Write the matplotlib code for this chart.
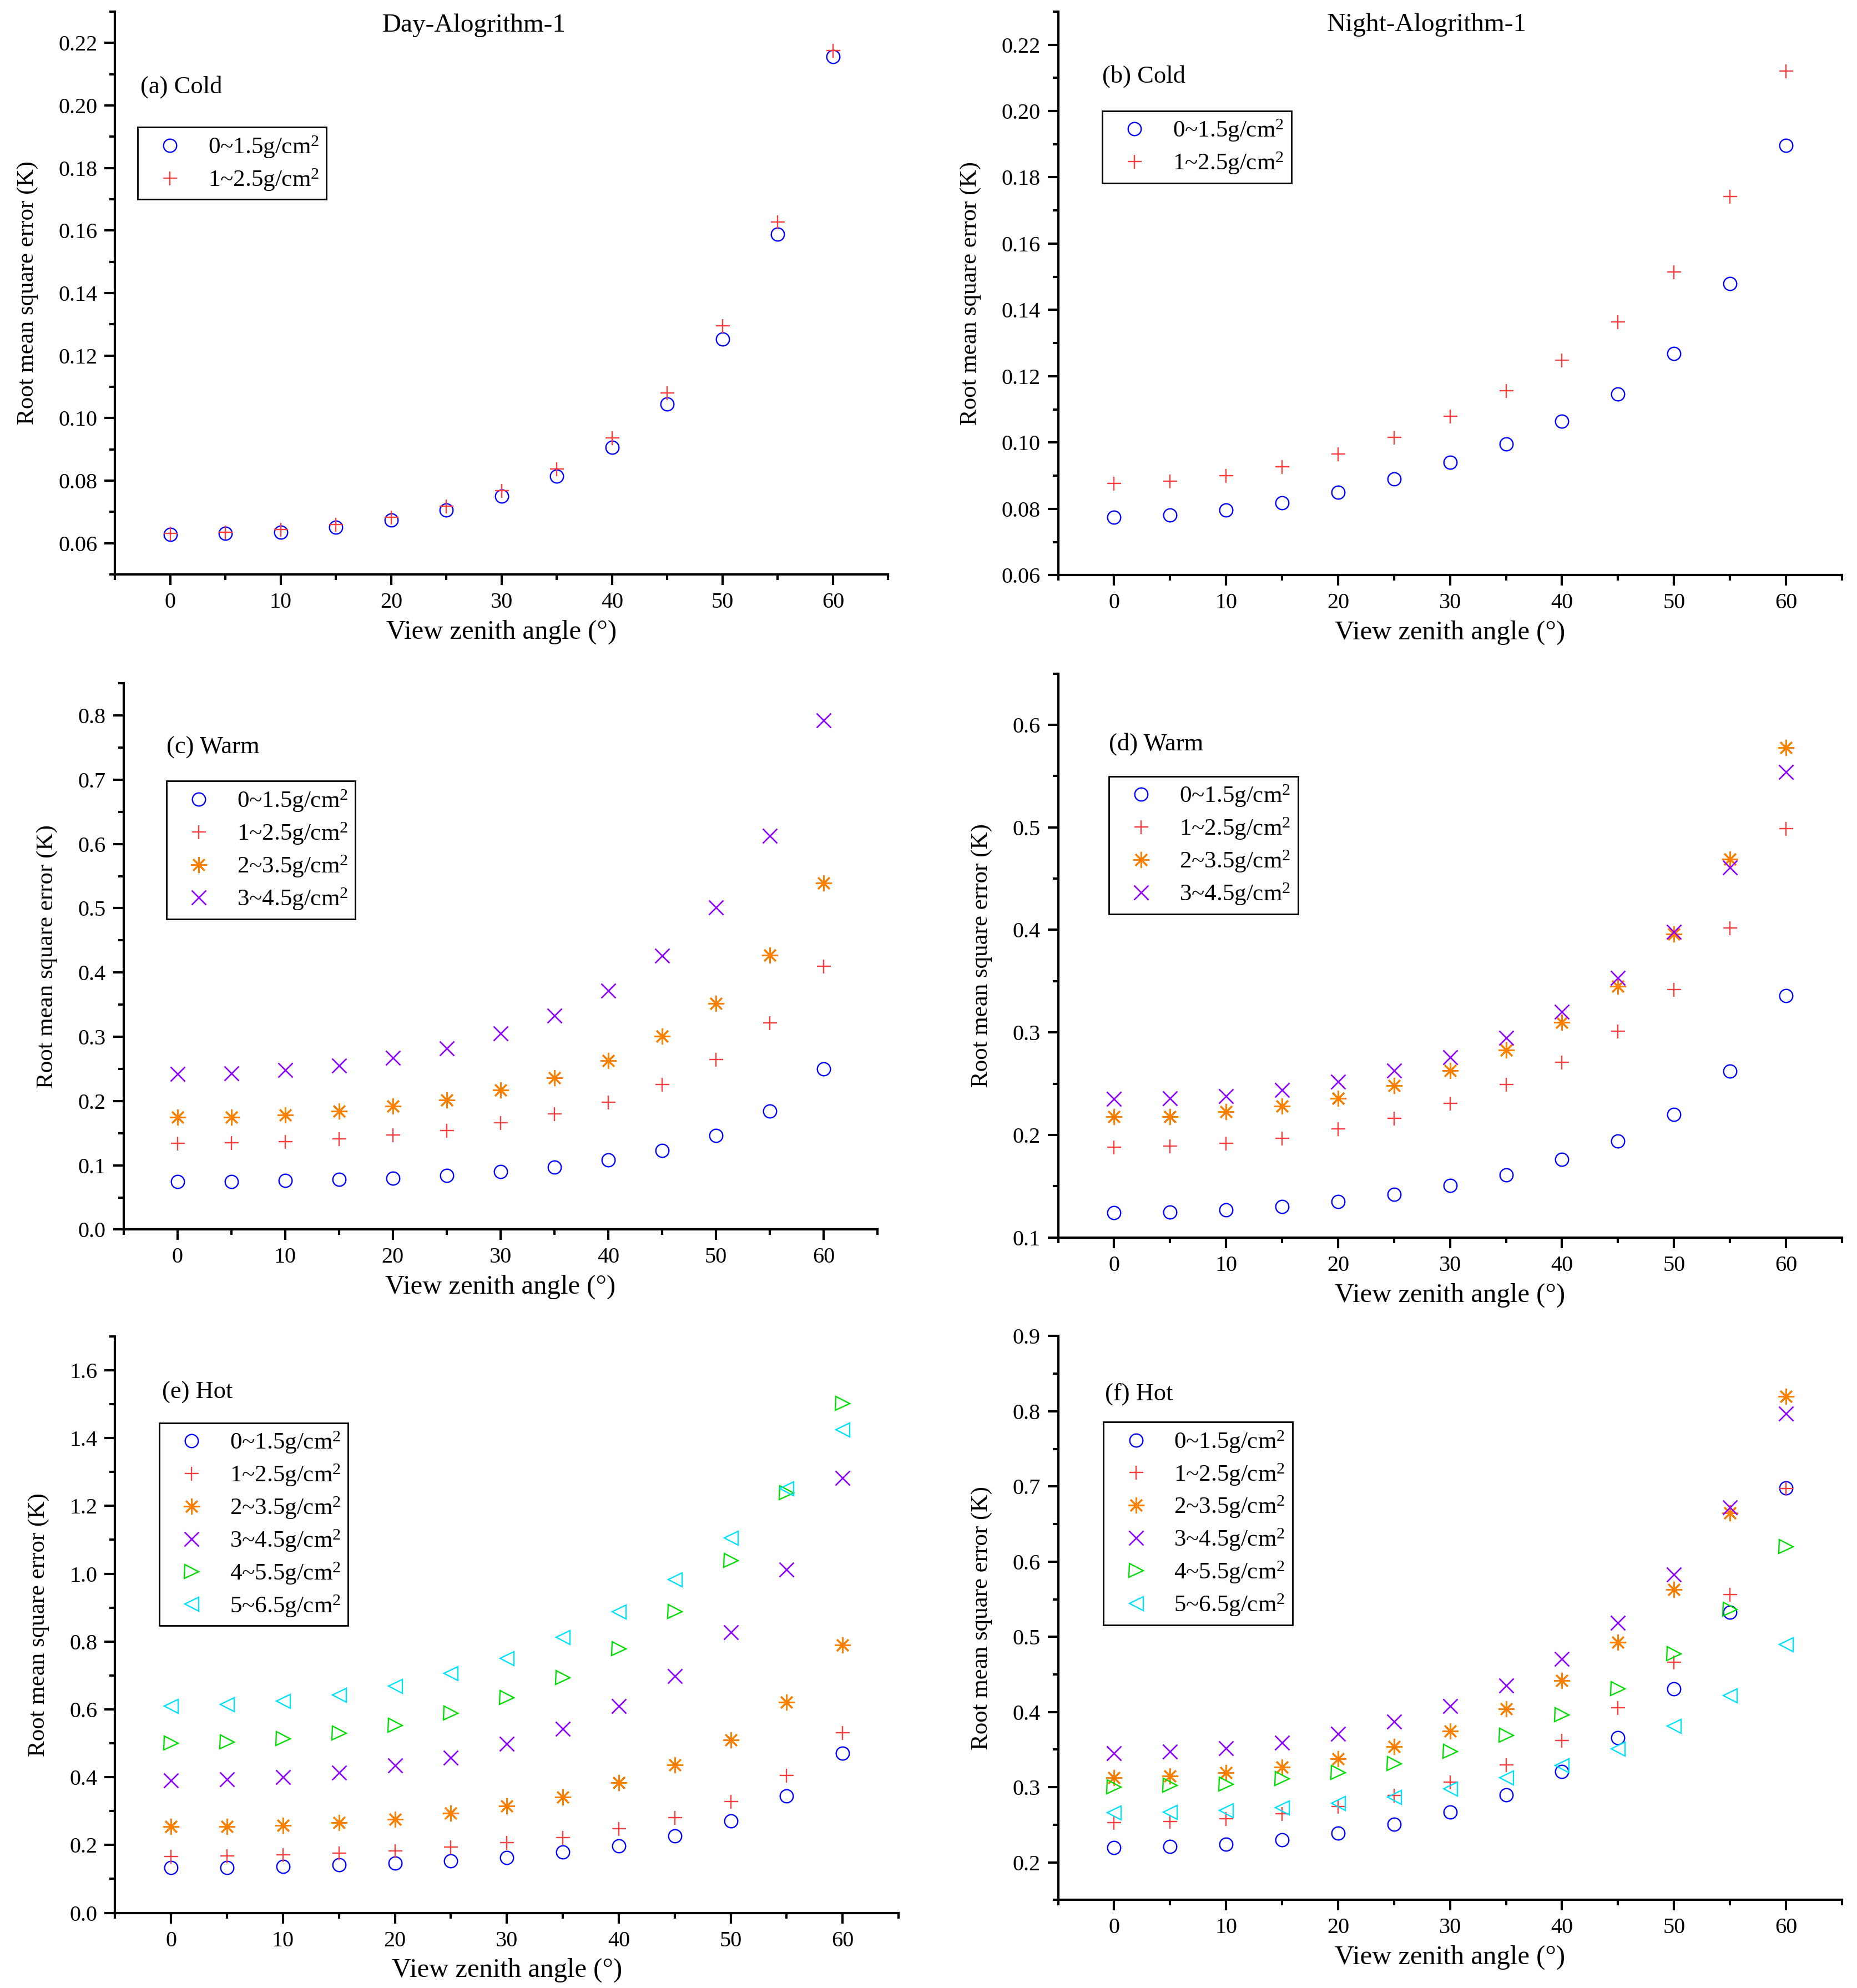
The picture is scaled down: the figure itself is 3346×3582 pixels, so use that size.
import matplotlib.pyplot as plt
from matplotlib.ticker import MultipleLocator, FormatStrFormatter

plt.rcParams['font.family'] = ['Liberation Serif', 'DejaVu Serif']
plt.rcParams['mathtext.fontset'] = 'custom'
plt.rcParams['mathtext.rm'] = 'Liberation Serif'
plt.rcParams['mathtext.it'] = 'Liberation Serif:italic'

angles = [0, 5, 10, 15, 20, 25, 30, 35, 40, 45, 50, 55, 60]
pw_labels = [r'0~1.5g/cm$^{2}$', r'1~2.5g/cm$^{2}$', r'2~3.5g/cm$^{2}$',
             r'3~4.5g/cm$^{2}$', r'4~5.5g/cm$^{2}$', r'5~6.5g/cm$^{2}$']

# (a) day, cold
day_cold_1 = [0.0627, 0.0631, 0.0635, 0.0651, 0.0674, 0.0706, 0.0750, 0.0814, 0.0906, 0.1044, 0.1252, 0.1588, 0.2157]
day_cold_2 = [0.0632, 0.0635, 0.0643, 0.0660, 0.0682, 0.0719, 0.0767, 0.0837, 0.0936, 0.1080, 0.1295, 0.1627, 0.2176]
# (b) night, cold
night_cold_1 = [0.0775, 0.0782, 0.0796, 0.0818, 0.0850, 0.0890, 0.0941, 0.0996, 0.1064, 0.1146, 0.1268, 0.1480, 0.1897]
night_cold_2 = [0.0876, 0.0883, 0.0900, 0.0927, 0.0965, 0.1015, 0.1079, 0.1156, 0.1249, 0.1363, 0.1515, 0.1742, 0.2120]
# (c) day, warm
day_warm_1 = [0.075, 0.075, 0.076, 0.078, 0.080, 0.084, 0.090, 0.097, 0.108, 0.123, 0.146, 0.184, 0.250]
day_warm_2 = [0.134, 0.135, 0.137, 0.141, 0.147, 0.154, 0.166, 0.180, 0.198, 0.226, 0.265, 0.322, 0.410]
day_warm_3 = [0.175, 0.175, 0.178, 0.184, 0.192, 0.202, 0.217, 0.236, 0.263, 0.301, 0.352, 0.427, 0.539]
day_warm_4 = [0.242, 0.243, 0.248, 0.255, 0.267, 0.282, 0.305, 0.333, 0.372, 0.426, 0.501, 0.613, 0.792]
# (d) night, warm
night_warm_1 = [0.124, 0.125, 0.127, 0.130, 0.135, 0.142, 0.151, 0.161, 0.176, 0.194, 0.220, 0.262, 0.336]
night_warm_2 = [0.188, 0.189, 0.192, 0.197, 0.206, 0.216, 0.231, 0.249, 0.271, 0.301, 0.342, 0.402, 0.499]
night_warm_3 = [0.218, 0.218, 0.223, 0.228, 0.236, 0.248, 0.263, 0.283, 0.310, 0.345, 0.396, 0.469, 0.578]
night_warm_4 = [0.235, 0.236, 0.238, 0.244, 0.252, 0.263, 0.276, 0.295, 0.320, 0.353, 0.398, 0.461, 0.554]
# (e) day, hot
day_hot_1 = [0.133, 0.133, 0.136, 0.141, 0.147, 0.153, 0.163, 0.179, 0.198, 0.227, 0.271, 0.345, 0.470]
day_hot_2 = [0.167, 0.168, 0.172, 0.176, 0.182, 0.194, 0.208, 0.222, 0.248, 0.281, 0.329, 0.405, 0.532]
day_hot_3 = [0.255, 0.255, 0.258, 0.266, 0.276, 0.294, 0.315, 0.342, 0.384, 0.436, 0.510, 0.622, 0.789]
day_hot_4 = [0.390, 0.393, 0.400, 0.413, 0.434, 0.458, 0.498, 0.543, 0.609, 0.698, 0.828, 1.012, 1.283]
day_hot_5 = [0.500, 0.503, 0.513, 0.529, 0.552, 0.588, 0.635, 0.694, 0.778, 0.888, 1.039, 1.239, 1.501]
day_hot_6 = [0.609, 0.614, 0.624, 0.642, 0.668, 0.706, 0.751, 0.813, 0.888, 0.983, 1.106, 1.251, 1.425]
# (f) night, hot
night_hot_1 = [0.220, 0.221, 0.224, 0.230, 0.239, 0.251, 0.267, 0.290, 0.321, 0.366, 0.431, 0.533, 0.698]
night_hot_2 = [0.253, 0.254, 0.258, 0.265, 0.274, 0.289, 0.307, 0.330, 0.362, 0.406, 0.466, 0.556, 0.697]
night_hot_3 = [0.313, 0.315, 0.319, 0.327, 0.338, 0.354, 0.375, 0.404, 0.442, 0.493, 0.563, 0.665, 0.820]
night_hot_4 = [0.345, 0.347, 0.352, 0.359, 0.371, 0.387, 0.408, 0.435, 0.471, 0.519, 0.583, 0.672, 0.797]
night_hot_5 = [0.300, 0.302, 0.304, 0.311, 0.319, 0.331, 0.347, 0.369, 0.396, 0.431, 0.477, 0.536, 0.620]
night_hot_6 = [0.266, 0.267, 0.269, 0.273, 0.279, 0.287, 0.298, 0.313, 0.329, 0.351, 0.381, 0.422, 0.490]

markers = ['o', '+', (8, 2, 0), 'x', '>', '<']
msizes = [17, 18, 21, 19, 18, 18]
mwidths = [1.7, 1.7, 2.1, 1.9, 1.7, 1.7]
colors = ['#0000FF', '#FF3C3C', '#FF8000', '#8C00FF', '#00DD00', '#00E0FF']


def draw_panel(ax, series, tag, tag_xy, leg_xy, ylim, ymajor, yfmt, title=None):
    for i, vals in enumerate(series):
        ax.plot(angles, vals, linestyle='none', marker=markers[i], markersize=msizes[i],
                markerfacecolor='none', markeredgecolor=colors[i],
                markeredgewidth=mwidths[i], label=pw_labels[i])
    ax.set_xlim(-5, 65)
    ax.set_ylim(*ylim)
    ax.xaxis.set_major_locator(MultipleLocator(10))
    ax.xaxis.set_minor_locator(MultipleLocator(5))
    ax.yaxis.set_major_locator(MultipleLocator(ymajor))
    ax.yaxis.set_minor_locator(MultipleLocator(ymajor / 2))
    ax.yaxis.set_major_formatter(FormatStrFormatter(yfmt))
    for s in ['top', 'right']:
        ax.spines[s].set_visible(False)
    for s in ['left', 'bottom']:
        ax.spines[s].set_linewidth(3)
    ax.tick_params(which='major', direction='out', length=14, width=3, labelsize=29, pad=9)
    ax.tick_params(which='minor', direction='out', length=7, width=3)
    ax.set_xlabel('View zenith angle (°)', fontsize=35, labelpad=9)
    ax.set_ylabel('Root mean square error (K)', fontsize=31, labelpad=26)
    ax.text(tag_xy[0], tag_xy[1], tag, transform=ax.transAxes, fontsize=32,
            ha='left', va='center')
    if title:
        ax.text(title[1], 0.997, title[0], transform=ax.transAxes, fontsize=34,
                ha='center', va='top')
    leg = ax.legend(loc='upper left', bbox_to_anchor=leg_xy, fontsize=31,
                    numpoints=1, handlelength=2.1, handletextpad=0.55,
                    labelspacing=0.3, borderpad=0.3, borderaxespad=0,
                    fancybox=False, framealpha=1, edgecolor='black')
    leg.get_frame().set_linewidth(2)


fig = plt.figure(figsize=(33.46, 35.82), dpi=100)

ax_a = fig.add_axes([0.0620, 0.7111, 0.4163, 0.2830])
ax_b = fig.add_axes([0.5698, 0.7107, 0.4221, 0.2835])
ax_c = fig.add_axes([0.0665, 0.3815, 0.4060, 0.2748])
ax_d = fig.add_axes([0.5698, 0.3775, 0.4221, 0.2837])
ax_e = fig.add_axes([0.0620, 0.0378, 0.4219, 0.2900])
ax_f = fig.add_axes([0.5698, 0.0443, 0.4221, 0.2836])

draw_panel(ax_a, [day_cold_1, day_cold_2], '(a) Cold', (0.033, 0.866), (0.029, 0.795),
           (0.05, 0.23), 0.02, '%.2f', title=('Day-Alogrithm-1', 0.464))
draw_panel(ax_b, [night_cold_1, night_cold_2], '(b) Cold', (0.056, 0.885), (0.0565, 0.824),
           (0.06, 0.23), 0.02, '%.2f', title=('Night-Alogrithm-1', 0.47))
draw_panel(ax_c, [day_warm_1, day_warm_2, day_warm_3, day_warm_4], '(c) Warm',
           (0.057, 0.883), (0.057, 0.821), (0.0, 0.85), 0.1, '%.1f')
draw_panel(ax_d, [night_warm_1, night_warm_2, night_warm_3, night_warm_4], '(d) Warm',
           (0.065, 0.875), (0.065, 0.818), (0.1, 0.65), 0.1, '%.1f')
draw_panel(ax_e, [day_hot_1, day_hot_2, day_hot_3, day_hot_4, day_hot_5, day_hot_6], '(e) Hot',
           (0.060, 0.903), (0.056, 0.850), (0.0, 1.7), 0.2, '%.1f')
draw_panel(ax_f, [night_hot_1, night_hot_2, night_hot_3, night_hot_4, night_hot_5, night_hot_6], '(f) Hot',
           (0.060, 0.897), (0.058, 0.848), (0.15, 0.9), 0.1, '%.1f')

fig.savefig('out.png', dpi=100)
plt.close(fig)
